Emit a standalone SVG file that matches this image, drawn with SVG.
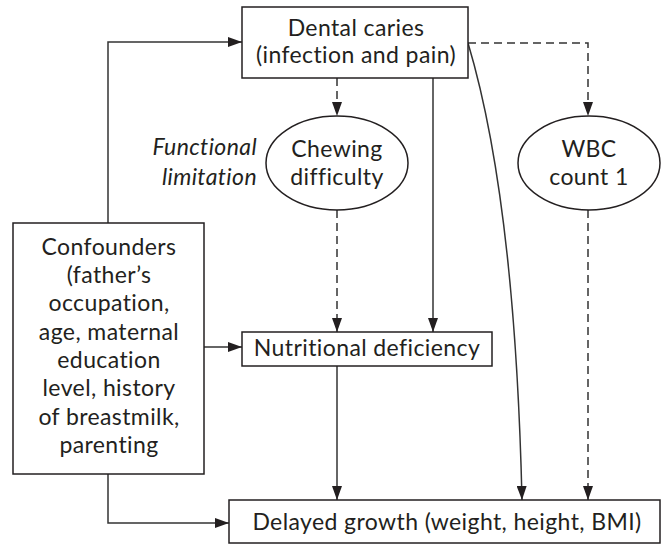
<svg xmlns="http://www.w3.org/2000/svg" width="662" height="544" viewBox="0 0 662 544">
<style>
.box{fill:#fff;stroke:#231f20;stroke-width:1.5}
.t{font-family:Lato,"Open Sans","Liberation Sans",sans-serif;font-size:23px;letter-spacing:0.4px;fill:#231f20;text-anchor:middle}
.it{font-style:italic;text-anchor:end}
.c{fill:none;stroke:#333;stroke-width:1.5}
.d{stroke-dasharray:8 5}
</style>
<defs>
<marker id="ah" viewBox="0 0 14 10" refX="14" refY="5" markerWidth="14" markerHeight="10" markerUnits="userSpaceOnUse" orient="auto">
<path d="M0,0 L14,5 L0,10 z" fill="#231f20" stroke="none"/>
</marker>
</defs>
<rect width="662" height="544" fill="#fff"/>
<g id="connectors">
<path class="c" d="M108,223 V42 H242" marker-end="url(#ah)"/>
<path class="c d" d="M337,78 V116" marker-end="url(#ah)"/>
<path class="c" d="M433,78 V332" marker-end="url(#ah)"/>
<path class="c d" d="M468,43 H588 V116" marker-end="url(#ah)"/>
<path class="c" d="M468,43 Q515,200 522,500" marker-end="url(#ah)"/>
<path class="c d" d="M337,210 V332" marker-end="url(#ah)"/>
<path class="c" d="M204,347 H242" marker-end="url(#ah)"/>
<path class="c" d="M337,366 V500" marker-end="url(#ah)"/>
<path class="c d" d="M588,210 V500" marker-end="url(#ah)"/>
<path class="c" d="M108,474 V523 H229" marker-end="url(#ah)"/>
</g>
<g id="dental-caries">
<rect class="box" x="242" y="7" width="226" height="71"/>
<text class="t" x="356" y="36">Dental caries</text>
<text class="t" x="356" y="63">(infection and pain)</text>
</g>
<g id="functional-limitation">
<text class="t it" x="257" y="155">Functional</text>
<text class="t it" x="257" y="185">limitation</text>
</g>
<g id="chewing-difficulty">
<ellipse class="box" cx="337" cy="163" rx="71" ry="47"/>
<text class="t" x="337" y="157">Chewing</text>
<text class="t" x="337" y="185">difficulty</text>
</g>
<g id="wbc-count">
<ellipse class="box" cx="589" cy="163" rx="71" ry="47"/>
<text class="t" x="589" y="157">WBC</text>
<text class="t" x="589" y="185">count 1</text>
</g>
<g id="confounders">
<rect class="box" x="13" y="223" width="191" height="251"/>
<text class="t" x="109" y="255">Confounders</text>
<text class="t" x="109" y="283">(father’s</text>
<text class="t" x="109" y="311">occupation,</text>
<text class="t" x="109" y="340">age, maternal</text>
<text class="t" x="109" y="368">education</text>
<text class="t" x="109" y="396">level, history</text>
<text class="t" x="109" y="425">of breastmilk,</text>
<text class="t" x="109" y="453">parenting</text>
</g>
<g id="nutritional-deficiency">
<rect class="box" x="242" y="332" width="250" height="34"/>
<text class="t" x="367" y="356">Nutritional deficiency</text>
</g>
<g id="delayed-growth">
<rect class="box" x="229" y="500" width="431" height="43"/>
<text class="t" x="447" y="530">Delayed growth (weight, height, BMI)</text>
</g>
</svg>
